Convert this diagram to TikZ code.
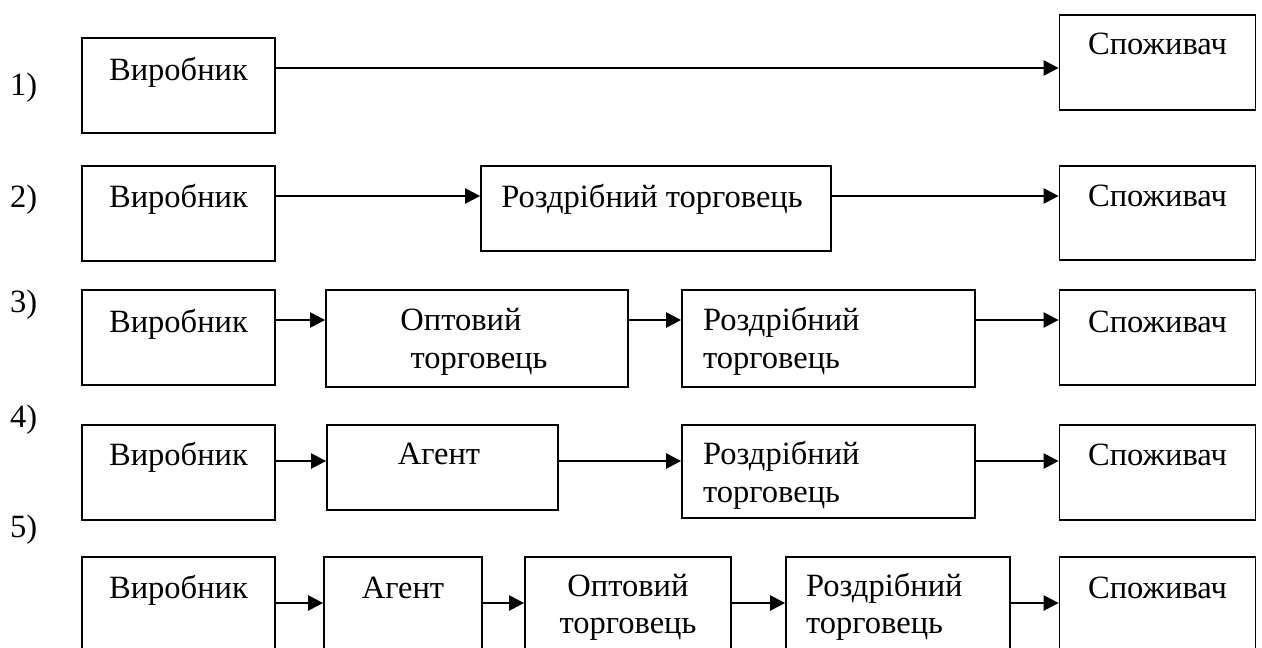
\documentclass[tikz,border=0pt]{standalone}
\usepackage{fontspec}
\setmainfont{Liberation Serif}
\usetikzlibrary{arrows.meta}
\tikzset{
  box/.style={draw, line width=1.8pt, inner sep=0pt},
  txt/.style={font=\fontsize{32.5}{38}\selectfont, inner sep=0pt},
  arr/.style={line width=2.4pt, -{Triangle[length=15pt,width=15pt]}}
}
\begin{document}
\begin{tikzpicture}[x=1pt,y=-1pt]
\useasboundingbox (0,0) rectangle (1262,648);
\clip (0,0) rectangle (1262,648);
% labels
\node[txt, anchor=base west] (l1) at (10,95) {1)};
\node[txt, anchor=base west] (l2) at (10,207) {2)};
\node[txt, anchor=base west] (l3) at (10,312) {3)};
\node[txt, anchor=base west] (l4) at (10,427) {4)};
\node[txt, anchor=base west] (l5) at (10,537) {5)};
% row 1
\node[box, minimum width=193pt, minimum height=95pt] (v1) at (178.5,85.5) {};
\node[box, minimum width=196pt, minimum height=95pt] (s1) at (1157.5,62.5) {};
\node[txt, anchor=base] (tv1) at (178.5,80) {Виробник};
\node[txt, anchor=base] (ts1) at (1157.5,54) {Споживач};
\coordinate (y1) at ([yshift=17.5pt]v1.east);
\draw[arr] (y1) -- (y1 -| s1.west);
% row 2
\node[box, minimum width=193pt, minimum height=95pt] (v2) at (178.5,213.5) {};
\node[box, minimum width=350pt, minimum height=85pt] (r2) at (656,208.5) {};
\node[box, minimum width=196pt, minimum height=94pt] (s2) at (1157.5,213) {};
\node[txt, anchor=base] (tv2) at (178.5,207) {Виробник};
\node[txt, anchor=base] (tr2) at (652,207) {Роздрібний торговець};
\node[txt, anchor=base] (ts2) at (1157.5,206) {Споживач};
\coordinate (y2) at ([yshift=17.5pt]v2.east);
\draw[arr] (y2) -- (y2 -| r2.west);
\draw[arr] (y2 -| r2.east) -- (y2 -| s2.west);
% row 3
\node[box, minimum width=193pt, minimum height=95pt] (v3) at (178.5,337.5) {};
\node[box, minimum width=302pt, minimum height=97pt] (o3) at (477,338.5) {};
\node[box, minimum width=293pt, minimum height=97pt] (r3) at (828.5,338.5) {};
\node[box, minimum width=196pt, minimum height=95pt] (s3) at (1157.5,337.5) {};
\node[txt, anchor=base] (tv3) at (178.5,332) {Виробник};
\node[txt, anchor=base] (to3a) at (461,330) {Оптовий};
\node[txt, anchor=base] (to3b) at (479,368) {торговець};
\node[txt, anchor=base west] (tr3a) at (703,330) {Роздрібний};
\node[txt, anchor=base west] (tr3b) at (703,368) {торговець};
\node[txt, anchor=base] (ts3) at (1157.5,332) {Споживач};
\coordinate (y3) at ([yshift=17.5pt]v3.east);
\draw[arr] (y3) -- (y3 -| o3.west);
\draw[arr] (y3 -| o3.east) -- (y3 -| r3.west);
\draw[arr] (y3 -| r3.east) -- (y3 -| s3.west);
% row 4
\node[box, minimum width=193pt, minimum height=95pt] (v4) at (178.5,472.5) {};
\node[box, minimum width=231pt, minimum height=85pt] (a4) at (442.5,467.5) {};
\node[box, minimum width=293pt, minimum height=93pt] (r4) at (828.5,471.5) {};
\node[box, minimum width=196pt, minimum height=95pt] (s4) at (1157.5,472.5) {};
\node[txt, anchor=base] (tv4) at (178.5,465) {Виробник};
\node[txt, anchor=base] (ta4) at (439,464) {Агент};
\node[txt, anchor=base west] (tr4a) at (703,464) {Роздрібний};
\node[txt, anchor=base west] (tr4b) at (703,502) {торговець};
\node[txt, anchor=base] (ts4) at (1157.5,465) {Споживач};
\coordinate (y4) at ([yshift=11.5pt]v4.east);
\draw[arr] (y4) -- (y4 -| a4.west);
\draw[arr] (y4 -| a4.east) -- (y4 -| r4.west);
\draw[arr] (y4 -| r4.east) -- (y4 -| s4.west);
% row 5
\node[box, minimum width=193pt, minimum height=95pt] (v5) at (178.5,604.5) {};
\node[box, minimum width=158pt, minimum height=95pt] (a5) at (403,604.5) {};
\node[box, minimum width=206pt, minimum height=95pt] (o5) at (628,604.5) {};
\node[box, minimum width=224pt, minimum height=95pt] (r5) at (898,604.5) {};
\node[box, minimum width=196pt, minimum height=95pt] (s5) at (1157.5,604.5) {};
\node[txt, anchor=base] (tv5) at (178.5,598) {Виробник};
\node[txt, anchor=base] (ta5) at (403,598) {Агент};
\node[txt, anchor=base] (to5a) at (628,596) {Оптовий};
\node[txt, anchor=base] (to5b) at (628,633) {торговець};
\node[txt, anchor=base west] (tr5a) at (806,596) {Роздрібний};
\node[txt, anchor=base west] (tr5b) at (806,633) {торговець};
\node[txt, anchor=base] (ts5) at (1157.5,598) {Споживач};
\coordinate (y5) at ([yshift=1.5pt]v5.east);
\draw[arr] (y5) -- (y5 -| a5.west);
\draw[arr] (y5 -| a5.east) -- (y5 -| o5.west);
\draw[arr] (y5 -| o5.east) -- (y5 -| r5.west);
\draw[arr] (y5 -| r5.east) -- (y5 -| s5.west);
\end{tikzpicture}
\end{document}
